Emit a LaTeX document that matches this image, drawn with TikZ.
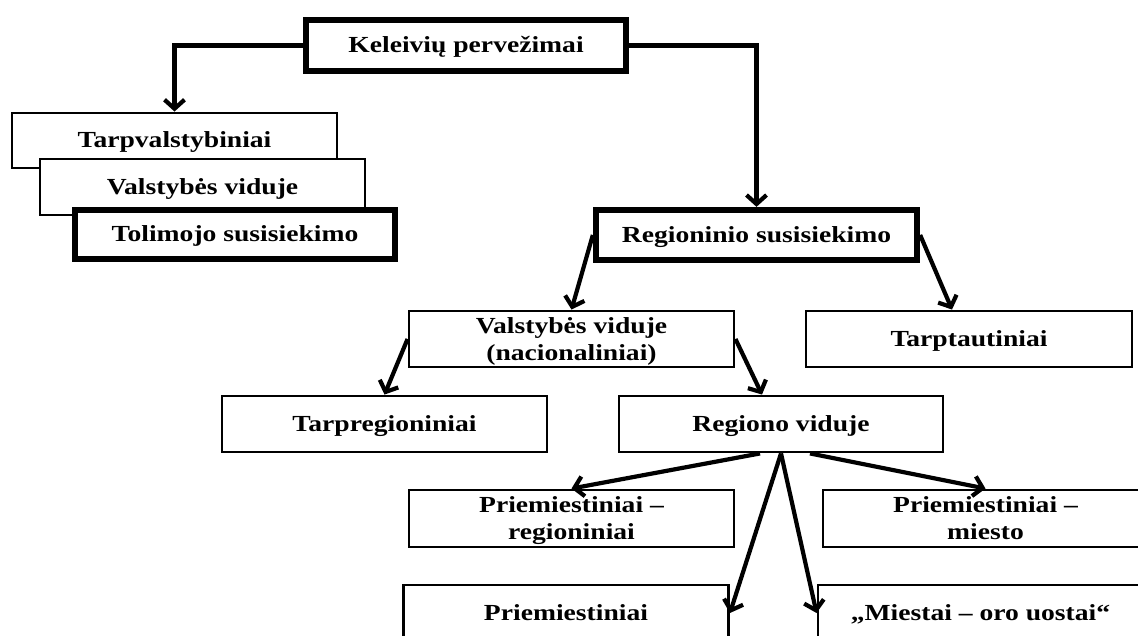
\documentclass[tikz,border=0pt]{standalone}
\usepackage{fontspec}
\setmainfont{Liberation Serif}[FakeStretch=1.2]
\usetikzlibrary{arrows.meta}
% invisible strut: keeps every text line the same height and depth
\newcommand\sv{\rule[-5pt]{0pt}{25pt}}
\begin{document}
\begin{tikzpicture}[x=1pt,y=-1pt,
  box/.style={draw,line width=2.9pt,fill=white,minimum width=325pt,
    minimum height=56pt,inner sep=0pt,align=center,
    font=\fontsize{23pt}{27pt}\selectfont\bfseries},
  heavybox/.style={box,line width=6.3pt},
  arr/.style={line width=4.2pt,line join=miter,
    -{Straight Barb[length=9pt,width=20pt]}}]
\useasboundingbox (0,0) rectangle (1138,636);
\clip (0,0) rectangle (1138,636);

% long-distance stack
\node[box,minimum height=55pt] (tv) at (174.5,140.5) {\sv Tarpvalstybiniai};
\node[box] (vv) at (202.5,187) {\sv Valstybės viduje};
\node[heavybox,minimum width=320pt,minimum height=49pt] (tol) at (235,234.5) {\sv Tolimojo susisiekimo};

% root and regional branch
\node[heavybox,minimum width=320pt,minimum height=51pt] (kel) at (466,45.5) {\sv Keleivių pervežimai};
\node[heavybox,minimum width=321pt,minimum height=50pt] (reg) at (756.5,235) {\sv Regioninio susisiekimo};
\node[box] (nac) at (571.5,339) {\sv Valstybės viduje\\\sv (nacionaliniai)};
\node[box,minimum width=326pt] (tpt) at (969,339) {\sv Tarptautiniai};
\node[box] (tpr) at (384.5,424) {\sv Tarpregioniniai};
\node[box,minimum width=324pt] (rv) at (781,424) {\sv Regiono viduje};
\node[box,minimum height=57pt] (pr) at (571.5,518.5) {\sv Priemiestiniai –\\\sv regioniniai};
\node[box,minimum height=57pt] (pm) at (985.5,518.5) {\sv Priemiestiniai –\\\sv miesto};
\node[box] (pq) at (566,613) {\sv Priemiestiniai};
\node[box] (mo) at (980.5,613) {\sv „Miestai – oro uostai“};

% connectors
\draw[arr] (kel.west) -| (tv.north);
\draw[arr] (kel.east) -| (reg.north);
\draw[arr] (reg.west) -- (nac.north);
\draw[arr] (reg.east) -- ([xshift=-17pt]tpt.north);
\draw[arr] (nac.west) -- (tpr.north);
\draw[arr] (nac.east) -- ([xshift=-19pt]rv.north);
\draw[arr] ([xshift=-21pt]rv.south) -- (pr.north);
\draw[arr] ([xshift=29pt]rv.south) -- (pm.north);
\draw[arr] (rv.south) -- (pq.east);
\draw[arr] (rv.south) -- (mo.west);
\end{tikzpicture}
\end{document}
